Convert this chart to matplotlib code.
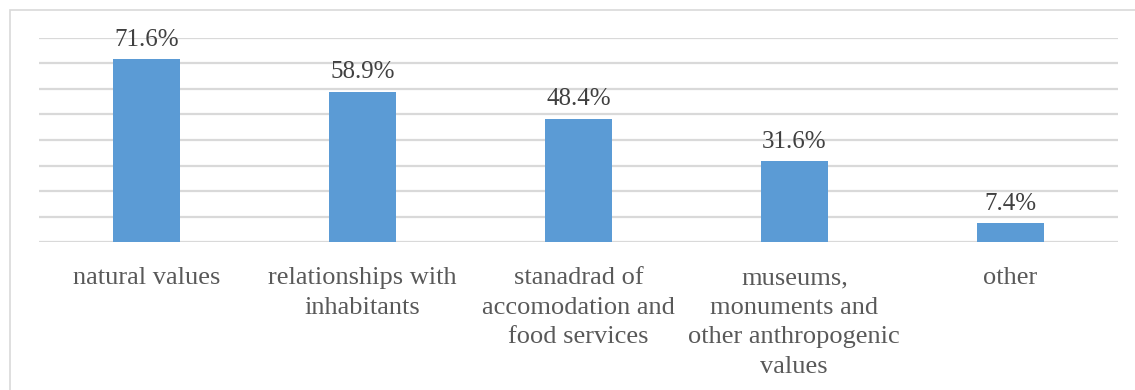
import matplotlib.pyplot as plt
from matplotlib.patches import Rectangle

categories = ['natural values', 'relationships with\ninhabitants',
              'stanadrad of\naccomodation and\nfood services',
              'museums,\nmonuments and\nother anthropogenic\nvalues', 'other']
values = [71.6, 58.9, 48.4, 31.6, 7.4]
labels = ['71.6%', '58.9%', '48.4%', '31.6%', '7.4%']

plt.rcParams['font.family'] = ['Liberation Serif', 'DejaVu Serif']

fig = plt.figure(figsize=(11.35, 3.9), dpi=100)
W, H = 1135, 390
# light frame around the chart area (runs off the right and bottom edges)
fig.patches.append(Rectangle((9.5 / W, -0.1), 1.2, 1.1 - 10.5 / H, transform=fig.transFigure,
                             fill=False, edgecolor='#d9d9d9', linewidth=1.2))

ax = fig.add_axes([39 / W, 1 - 242 / H, 1079 / W, 204 / H])
x = range(len(values))
ax.bar(x, values, width=0.31, color='#5b9bd5', zorder=3)
for xi, v, lab in zip(x, values, labels):
    ax.annotate(lab, (xi, v), xytext=(0, 6), textcoords='offset points',
                ha='center', va='bottom', fontsize=18, color='#404040')

ax.set_xlim(-0.5, 4.5)
ax.set_ylim(0, 80)
ax.set_yticks(range(0, 81, 10))
ax.set_yticklabels([])
ax.yaxis.grid(True, color='#d9d9d9', linewidth=1.6, zorder=0)
ax.tick_params(axis='y', length=0)
ax.tick_params(axis='x', length=0, pad=18)
ax.set_xticks(list(x))
ax.set_xticklabels(categories, fontsize=19, color='#595959', linespacing=1.45, va='top')
for s in ax.spines.values():
    s.set_visible(False)

fig.savefig('out.png', dpi=100)
